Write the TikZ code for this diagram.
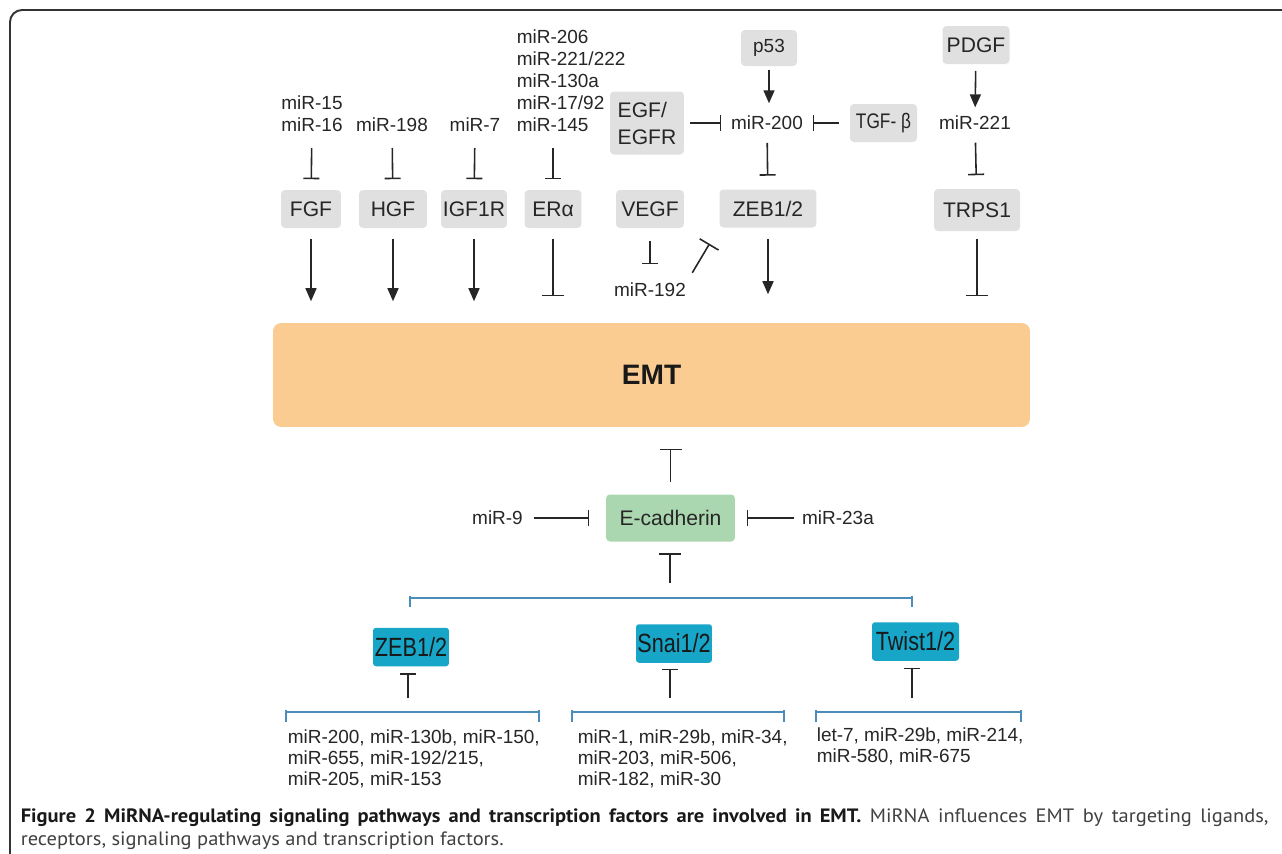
\documentclass[tikz,border=0pt]{standalone}
\usepackage{fontspec}
\setmainfont{Liberation Sans}
\newfontfamily\narrowfont[FakeStretch=0.82]{Liberation Sans}
\newfontfamily\capfont[FakeStretch=1.06]{PT Sans}
\usetikzlibrary{arrows.meta}
\definecolor{boxgray}{RGB}{224,224,224}
\definecolor{emtorange}{RGB}{250,204,145}
\definecolor{ecadgreen}{RGB}{170,215,175}
\definecolor{tfcyan}{RGB}{23,165,200}
\definecolor{brkblue}{RGB}{75,140,185}

\begin{document}
\begin{tikzpicture}[x=0.02cm, y=-0.02cm, line width=0.9pt,
    lbl/.style = {inner sep=0pt, text=black!85, font=\fontsize{10.8}{12.5}\selectfont},
    gbox/.style = {fill=boxgray, rounded corners=0.08cm, inner sep=0pt, minimum height=0.76cm, text=black!85, font=\fontsize{12}{15.4}\selectfont},
    tf/.style = {fill=tfcyan, rounded corners=0.06cm, inner sep=0pt, minimum height=0.77cm, text=black!90, font=\narrowfont\fontsize{15}{18}\selectfont},
    lst/.style = {inner sep=0pt, align=left, anchor=north west, text=black!85, font=\fontsize{10.8}{12}\selectfont},
    act/.style = {draw=black!85, -{Triangle[length=0.26cm, width=0.22cm]}},
    inh/.style = {draw=black!85, -{Bar[width=0.32cm]}},
    wbar/.style = {draw=black!85, -{Bar[width=0.44cm]}},
    brk/.style = {draw=brkblue, line width=0.85pt}]
    \useasboundingbox (0,0) rectangle (1282,853);
    \draw[line width=1.1pt, black!80, rounded corners=0.24cm] (1290,10) -- (10,10) -- (10,860);

    \node[lbl, align=center, anchor=south] (m15) at (312,132) {miR-15\\miR-16};
    \node[lbl, anchor=south] (m198) at (392,132) {miR-198};
    \node[lbl, anchor=south] (m7) at (475,132) {miR-7};
    \node[lbl, align=left, anchor=south west] (erl) at (516,132) {miR-206\\miR-221/222\\miR-130a\\miR-17/92\\miR-145};

    \node[gbox, minimum width=1.2cm] (fgf) at (311,209) {FGF};
    \node[gbox, minimum width=1.36cm] (hgf) at (393,209) {HGF};
    \node[gbox, minimum width=1.32cm] (igf) at (474,209) {IGF1R};
    \node[gbox, minimum width=1.14cm] (era) at (553,209) {ERα};
    \node[gbox, minimum width=1.36cm] (vegf) at (650,209) {VEGF};
    \node[gbox, minimum width=1.94cm] (zeba) at (768,208.5) {ZEB1/2};
    \node[gbox, minimum width=1.72cm, minimum height=0.84cm] (trps) at (977,210) {TRPS1};
    \node[gbox, minimum width=1.48cm, minimum height=1.26cm, align=left] (egf) at (647,123) {EGF/\\EGFR};
    \node[gbox, minimum width=1.12cm, minimum height=0.72cm, font=\fontsize{10.8}{13}\selectfont] (p53) at (769,48) {p53};
    \node[gbox, minimum width=1.34cm, font=\narrowfont\fontsize{12}{14}\selectfont] (tgf) at (883.5,123) {TGF- β};
    \node[gbox, minimum width=1.34cm] (pdgf) at (976,45) {PDGF};

    \node[lbl] (m200) at (767,123) {miR-200};
    \node[lbl] (m221) at (975,123) {miR-221};
    \node[lbl] (m192) at (650,290) {miR-192};

    \node[fill=emtorange, rounded corners=0.16cm, minimum width=15.14cm, minimum height=2.08cm, text=black!90, font=\bfseries\fontsize{16}{19}\selectfont] (emt) at (651.5,375) {EMT};

    \draw[inh, shorten <=0.32cm, shorten >=0.2cm] (m15) -- (fgf);
    \draw[inh, shorten <=0.32cm, shorten >=0.2cm] (m198) -- (hgf);
    \draw[inh, shorten <=0.32cm, shorten >=0.2cm] (m7) -- (igf);
    \draw[inh, shorten <=0.32cm, shorten >=0.2cm] (erl.south -| era) -- (era);

    \draw[act, shorten <=0.2cm, shorten >=0.42cm] (fgf) -- (fgf |- emt.north);
    \draw[act, shorten <=0.2cm, shorten >=0.42cm] (hgf) -- (hgf |- emt.north);
    \draw[act, shorten <=0.2cm, shorten >=0.42cm] (igf) -- (igf |- emt.north);
    \draw[wbar, shorten <=0.2cm, shorten >=0.52cm] (era) -- (era |- emt.north);
    \draw[act, shorten <=0.22cm, shorten >=0.56cm] (zeba) -- (zeba |- emt.north);
    \draw[wbar, shorten <=0.14cm, shorten >=0.52cm] (trps) -- (trps |- emt.north);

    \draw[act, shorten <=0.06cm, shorten >=0.24cm] (p53) -- (p53 |- m200.north);
    \draw[inh, shorten <=0.1cm, shorten >=0.18cm] (egf) -- (m200);
    \draw[inh, shorten <=0.2cm, shorten >=0.18cm] (tgf) -- (m200);
    \draw[inh, shorten <=0.24cm, shorten >=0.26cm] (m200) -- (zeba);
    \draw[act, shorten <=0.12cm, shorten >=0.16cm] (pdgf) -- (m221);
    \draw[inh, shorten <=0.24cm, shorten >=0.26cm] (m221) -- (trps);
    \draw[inh, shorten <=0.24cm, shorten >=0.36cm] (vegf) -- (m192);
    \draw[wbar, shorten <=0.22cm, shorten >=0.36cm] (m192.north east) -- (zeba.south west);

    \node[fill=ecadgreen, rounded corners=0.08cm, inner sep=0pt, minimum width=2.58cm, minimum height=0.94cm, text=black!85, font=\fontsize{12}{14}\selectfont] (ecad) at (670.5,518) {E-cadherin};
    \node[lbl] (m9) at (497.5,518) {miR-9};
    \node[lbl] (m23) at (838,518) {miR-23a};
    \draw[wbar, shorten <=0.24cm, shorten >=0.42cm] (ecad) -- (ecad |- emt.south);
    \draw[inh, shorten <=0.2cm, shorten >=0.32cm] (m9) -- (ecad);
    \draw[inh, shorten <=0.14cm, shorten >=0.22cm] (m23) -- (ecad);

    \coordinate (tfm) at (670,598);
    \draw[brk] (410,607) -- (410,596) (410,598) -- (912,598) (912,596) -- (912,607);
    \draw[wbar, shorten <=0.3cm, shorten >=0.22cm] (tfm) -- (tfm |- ecad.south);

    \node[tf, minimum width=1.52cm] (zebb) at (411,647) {ZEB1/2};
    \node[tf, minimum width=1.52cm] (snai) at (674,643.5) {Snai1/2};
    \node[tf, minimum width=1.74cm] (twist) at (915.5,641.5) {Twist1/2};

    \coordinate (zl) at (408,712);
    \coordinate (sl) at (670,712);
    \coordinate (tl) at (912,712);
    \draw[brk] (286,722) -- (286,710) (286,712) -- (539,712) (539,710) -- (539,722);
    \draw[brk] (572,722) -- (572,710) (572,712) -- (784,712) (784,710) -- (784,722);
    \draw[brk] (816,722) -- (816,710) (816,712) -- (1021,712) (1021,710) -- (1021,722);
    \draw[inh, shorten <=0.28cm, shorten >=0.12cm] (zl) -- (zl |- zebb.south);
    \draw[inh, shorten <=0.28cm, shorten >=0.1cm] (sl) -- (sl |- snai.south);
    \draw[inh, shorten <=0.28cm, shorten >=0.12cm] (tl) -- (tl |- twist.south);

    \node[lst] (zlist) at (287,729) {miR-200, miR-130b, miR-150,\\miR-655, miR-192/215,\\miR-205, miR-153};
    \node[lst] (slist) at (577,729) {miR-1, miR-29b, miR-34,\\miR-203, miR-506,\\miR-182, miR-30};
    \node[lst] (tlist) at (816,727) {let-7, miR-29b, miR-214,\\miR-580, miR-675};

    \node[inner sep=0pt, anchor=north west, text width=24.96cm, align=justify, text=black!75, font=\capfont\fontsize{11}{13.1}\selectfont] (cap) at (20,808) {\textcolor{black!90}{\bfseries Figure 2 MiRNA-regulating signaling pathways and transcription factors are involved in EMT.} MiRNA influences EMT by targeting ligands,\linebreak receptors, signaling pathways and transcription factors.};
\end{tikzpicture}
\end{document}
